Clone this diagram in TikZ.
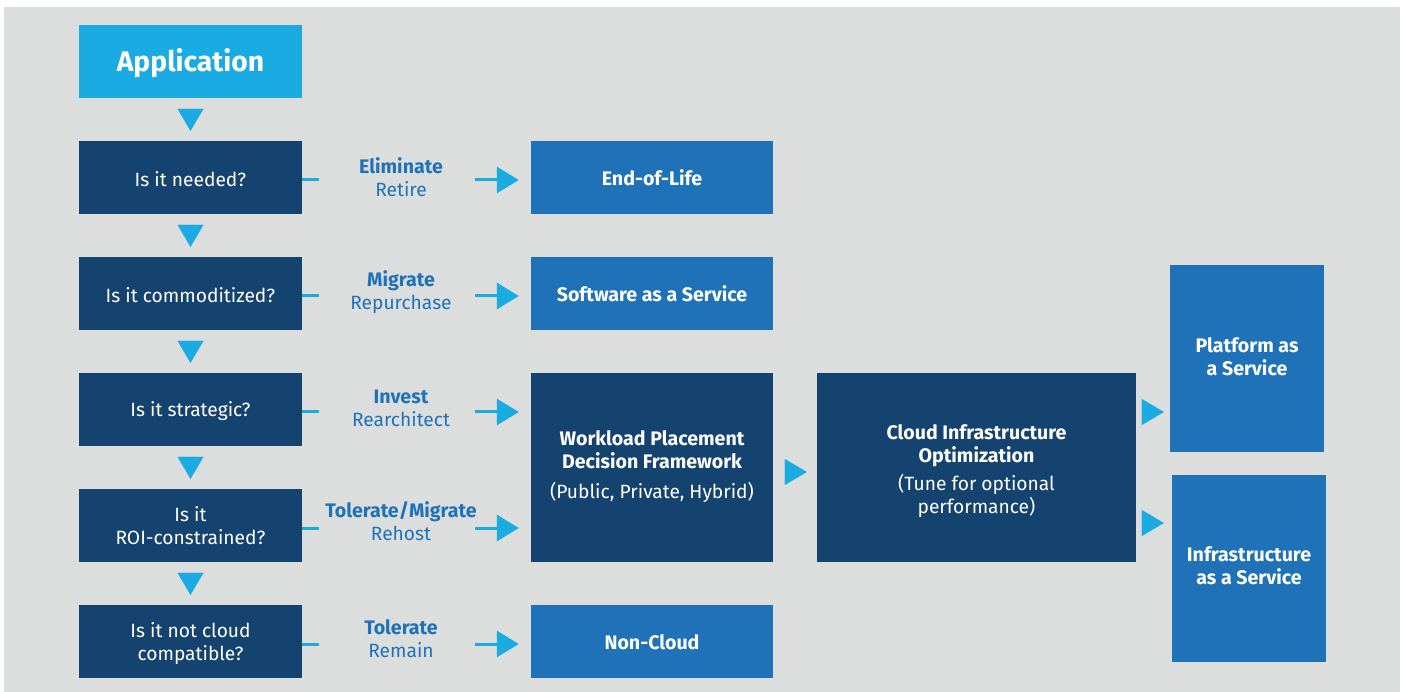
\documentclass[tikz,border=0pt]{standalone}
\usepackage{fontspec}
\setmainfont{Fira Sans}
\usetikzlibrary{arrows.meta,calc}
\definecolor{bg}{HTML}{DCDEDE}
\definecolor{navy}{HTML}{15436F}
\definecolor{midblue}{HTML}{1F72B8}
\definecolor{cyanb}{HTML}{19ABE2}
\newcommand{\bfs}[1]{{\fontsize{19.6}{23}\selectfont\bfseries #1}}
\begin{document}
\begin{tikzpicture}[x=1pt,y=-1pt,
  base/.style={inner sep=0pt, align=center, text=white, font=\fontsize{19.2}{23}\selectfont},
  appbox/.style={base, fill=cyanb, minimum width=223pt, minimum height=73pt, font=\fontsize{28.3}{30}\selectfont\bfseries},
  qbox/.style={base, fill=navy, minimum width=223pt, minimum height=73pt},
  qone/.style={qbox, text height=19pt},
  rbox/.style={base, fill=midblue, minimum width=242pt, minimum height=73pt, text height=17pt, font=\fontsize{19.6}{23}\selectfont\bfseries},
  bigbox/.style={base, fill=navy},
  sbox/.style={base, fill=midblue, minimum width=154pt, minimum height=187pt, font=\fontsize{19.6}{23}\selectfont\bfseries},
  lbl/.style={inner sep=0pt, align=center, text=midblue, font=\fontsize{19.2}{23}\selectfont},
  stub/.style={draw=cyanb, line width=3pt},
  arr/.style={draw=cyanb, line width=3pt, -{Triangle[length=22pt,width=26pt]}},
  tri/.style={draw=cyanb, line width=0.01pt, -{Triangle[length=22pt,width=26pt]}},
]
\useasboundingbox (0,0) rectangle (1403,692);
\fill[white] (0,0) rectangle (1403,692);
\fill[bg] (4,7) rectangle (1400,692);

% left column
\node[appbox] (app) at (190.5,61.5) {\rule{0pt}{27pt}Application};
\node[qone] (q1) at (190.5,177.5) {Is it needed?};
\node[qone] (q2) at (190.5,293.5) {Is it commoditized?};
\node[qone] (q3) at (190.5,409.5) {Is it strategic?};
\node[qbox] (q4) at (190.5,525.5) {Is it\\ROI-constrained?};
\node[qbox] (q5) at (190.5,641.5) {\rule{0pt}{20pt}Is it not cloud\\compatible?};

% down triangles
\foreach \a/\b in {app/q1,q1/q2,q2/q3,q3/q4,q4/q5}
  \draw[tri, shorten <=11pt, shorten >=10pt] (\a.south) -- (\b.north);

% result boxes
\node[rbox] (r1) at (652,177.5) {End-of-Life};
\node[rbox] (r2) at (652,293.5) {Software as a Service};
\node[bigbox, minimum width=242pt, minimum height=189pt] (wl) at (652,467.5)
  {\bfs{Workload Placement}\\\bfs{Decision Framework}\\[7pt](Public, Private, Hybrid)\rule[-6pt]{0pt}{1pt}};
\node[rbox] (r5) at (652,641.5) {Non-Cloud};
\node[bigbox, minimum width=319pt, minimum height=189pt] (cio) at (976.5,467.5)
  {\rule{0pt}{22pt}\bfs{Cloud Infrastructure}\\\bfs{Optimization}\\[5pt](Tune for optional\\performance)};
\node[sbox] (paas) at (1247,358.5) {Platform as\\a Service\rule[-4pt]{0pt}{1pt}};
\node[sbox] (iaas) at (1249,568.5) {Infrastructure\\as a Service\rule[-6pt]{0pt}{1pt}};

% labels
\node[lbl] (l1) at (401,177.5) {\bfs{Eliminate}\\Retire};
\node[lbl] (l2) at (401,292.5) {\bfs{Migrate}\\Repurchase};
\node[lbl] (l3) at (401,408.5) {\bfs{Invest}\\Rearchitect};
\node[lbl] (l4) at (401,521.5) {\bfs{Tolerate/Migrate}\\Rehost};
\node[lbl] (l5) at (401,638.5) {\bfs{Tolerate}\\Remain};

% stubs and arrows
\foreach \q/\r/\y in {q1/r1/180, q2/r2/296, q3/wl/412, q4/wl/528, q5/r5/644}{
  \coordinate (s\q) at (319,\y);
  \coordinate (a\q) at (475,\y);
  \draw[stub] (\q.east |- s\q) -- (s\q);
  \draw[arr, shorten >=12pt] (a\q) -- (a\q -| \r.west);
}

% right side triangles
\draw[tri, shorten <=12pt, shorten >=10pt] (wl.east |- 0,472) -- (cio.west |- 0,472);
\draw[tri, shorten <=6pt, shorten >=6pt] (cio.east |- 0,412) -- (paas.west |- 0,412);
\draw[tri, shorten <=6pt, shorten >=8pt] (cio.east |- 0,523) -- (iaas.west |- 0,523);
\end{tikzpicture}
\end{document}
